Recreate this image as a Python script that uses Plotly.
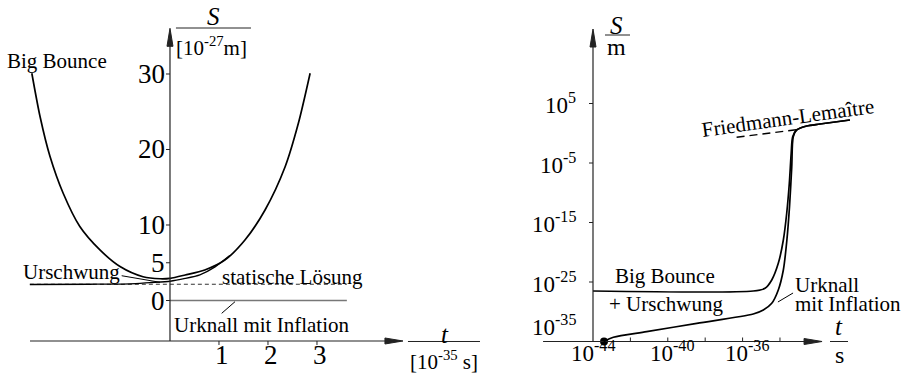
import plotly.graph_objects as go

# ---- left panel: t in 1e-35 s, S in 1e-27 m ----
bounce_t = [-2.82, -2.65, -2.45, -2.18, -1.84, -1.43, -1.02, -0.55, -0.20, 0.0, 0.31, 0.71, 1.12, 1.53, 1.94, 2.35, 2.62, 2.86]
bounce_s = [30.1, 24.3, 19.1, 14.2, 9.8, 6.7, 4.5, 3.15, 2.88, 2.94, 3.38, 4.04, 5.36, 8.01, 11.99, 17.72, 23.47, 30.1]

urschwung_t = [-2.86, -1.63, -0.82, -0.41, 0.0, 0.31, 0.61, 0.92, 1.22]
urschwung_s = [2.12, 2.15, 2.21, 2.38, 2.55, 2.92, 3.4, 4.45, 5.95]

static_t = [-2.86, 3.61]
static_s = [2.15, 2.15]

bigbang_t = [0.0, 3.61]
bigbang_s = [0.0, 0.0]

left_yticks = [0, 5, 10, 20, 30]
left_xticks = [1, 2, 3]

# ---- right panel: log10(t/s), log10(S/m) ----
bb_logt = [-44.0, -35.43, -34.80, -34.44, -34.09, -33.82, -33.64, -33.50, -33.40, -33.32, -33.11, -32.57, -31.86, -30.26]
bb_logs = [-26.51, -26.51, -26.06, -24.66, -21.86, -17.94, -13.45, -8.41, -3.37, -0.58, 0.55, 1.22, 1.55, 2.23]

infl_logt = [-43.41, -42.91, -41.13, -38.45, -35.43, -34.89, -34.44, -34.09, -33.82, -33.63, -33.49, -33.37, -33.29, -33.11, -32.57, -31.86, -30.26]
infl_logs = [-35.0, -34.29, -33.35, -31.94, -30.38, -29.71, -28.58, -26.34, -22.98, -17.94, -12.34, -5.62, -0.58, 0.55, 1.22, 1.55, 2.23]

fl_logt = [-36.32, -32.93]
fl_logs = [-0.68, 0.66]

right_yticks = [5, -5, -15, -25, -35]
right_xminor = [-42, -40, -38, -36, -34]
right_xlabels = [-44, -40, -36]

FONT = "Liberation Serif, DejaVu Serif, serif"
INK = "black"
AXIS = "#222"

fig = go.Figure()


def line(x, y, xa, ya, color=INK, width=1.5, dash=None, smooth=0):
    fig.add_trace(go.Scatter(x=x, y=y, xaxis=xa, yaxis=ya, mode="lines",
                             line=dict(color=color, width=width, dash=dash,
                                       shape="spline" if smooth else "linear",
                                       smoothing=smooth if smooth else 1),
                             hoverinfo="skip", showlegend=False))


def exp10(v):
    return [10.0 ** e for e in v]


# left curves
line(static_t, static_s, "x", "y", color="#333", width=1.2, dash="4px,3px")
line(urschwung_t, urschwung_s, "x", "y", width=1.3, smooth=0.6)
line(bounce_t, bounce_s, "x", "y", width=1.7, smooth=0.8)
line(bigbang_t, bigbang_s, "x", "y", color="#777", width=1.6)
# leader lines
line([-0.986, -0.204], [3.28, 2.41], "x", "y", width=1)
line([1.055, 1.327], [-1.70, -0.16], "x", "y", width=1)

# left axes
x_axis_s = -5.364
line([-2.857, 4.70], [x_axis_s, x_axis_s], "x", "y", color=AXIS, width=1.2)
line([0, 0], [x_axis_s, 35.5], "x", "y", color=AXIS, width=1.2)

# right curves
line(exp10(fl_logt), exp10(fl_logs), "x2", "y2", width=1.4, dash="8px,5px")
line(exp10(infl_logt), exp10(infl_logs), "x2", "y2", width=1.7, smooth=0.8)
line(exp10(bb_logt), exp10(bb_logs), "x2", "y2", width=1.7, smooth=0.8)
line(exp10([-34.11, -33.30]), exp10([-28.36, -26.85]), "x2", "y2", width=1)
fig.add_trace(go.Scatter(x=[10.0 ** infl_logt[0]], y=[10.0 ** infl_logs[0]], xaxis="x2", yaxis="y2",
                         mode="markers", marker=dict(color=INK, size=8), hoverinfo="skip", showlegend=False))

# right axes
line(exp10([-46.67, -32.05]), [1e-35, 1e-35], "x2", "y2", color=AXIS, width=1.2)
line([1e-44, 1e-44], exp10([-35, 17.0]), "x2", "y2", color=AXIS, width=1.2)

shapes = []


def pix_path(xref, yref, x, y, path, fill=None):
    s = dict(type="path", xref=xref, yref=yref, xsizemode="pixel", ysizemode="pixel",
             xanchor=x, yanchor=y, path=path, line=dict(color=AXIS, width=1))
    if fill:
        s["fillcolor"] = fill
    shapes.append(s)


ARROW_R = "M0,0 L-18,3 L-18,-3 Z"
ARROW_U = "M0,0 L-3,-18 L3,-18 Z"

# arrowheads
pix_path("x", "y", 4.755, x_axis_s, ARROW_R, AXIS)
pix_path("x", "y", 0, 36.05, ARROW_U, AXIS)
pix_path("x2", "y2", 10 ** -31.75, 1e-35, ARROW_R, AXIS)
pix_path("x2", "y2", 1e-44, 10 ** 17.52, ARROW_U, AXIS)

# tick marks
for v in left_yticks:
    pix_path("x", "y", 0, v, "M0,0 L-4,0")
for v in left_xticks:
    pix_path("x", "y", v, x_axis_s, "M0,0 L0,-4")
for e in right_yticks:
    pix_path("x2", "y2", 1e-44, 10.0 ** e, "M0,0 L-4,0")
for e in right_xminor:
    pix_path("x2", "y2", 10.0 ** e, 1e-35, "M0,0 L0,4")


# fraction bars
def bar(xref, yref, x0, x1, y):
    shapes.append(dict(type="line", xref=xref, yref=yref, x0=x0, x1=x1, y0=y, y1=y,
                       line=dict(color=AXIS, width=1)))


bar("x", "y", 0.122, 1.653, 36.09)
bar("x", "y", 4.857, 6.327, -5.43)
shapes.append(dict(type="line", xref="paper", yref="paper", x0=605 / 906, x1=630 / 906,
                   y0=1 - 35 / 373, y1=1 - 35 / 373, line=dict(color=AXIS, width=1)))
shapes.append(dict(type="line", xref="paper", yref="paper", x0=830 / 906, x1=848 / 906,
                   y0=1 - 341.5 / 373, y1=1 - 341.5 / 373, line=dict(color=AXIS, width=1)))

ann = []


def text(s, x, y, xref="x", yref="y", size=21, xanchor="center", yanchor="middle", angle=0, xshift=0, yshift=0):
    ann.append(dict(text=s, x=x, y=y, xref=xref, yref=yref, showarrow=False, xanchor=xanchor,
                    yanchor=yanchor, textangle=angle, xshift=xshift, yshift=yshift,
                    font=dict(family=FONT, size=size, color=INK)))


# left tick labels
for v in left_yticks:
    text(str(v), 0, v, size=27, xanchor="right", xshift=-3)
for v in left_xticks:
    text(str(v), v, -7.22, size=27, xshift=3)

# left labels
text("Big Bounce", -2.31, 31.72)
text("Urschwung", -2.006, 3.81)
text("statische Lösung", 2.5, 3.15)
text("Urknall mit Inflation", 1.871, -3.245)
text("<i>S</i>", 0.898, 37.55, size=25)
text("[10<sup>-27</sup>m]", 0.857, 33.7)
text("<i>t</i>", 5.612, -4.44, size=25)
text("[10<sup>-35</sup> s]", 5.59, -8.01)

# right tick labels (annotation positions on log axes are in log10 units)
for e in right_yticks:
    text("10<sup>%d</sup>" % e, -44, e, "x2", "y2", size=23, xanchor="right", xshift=-15,
         yshift=16 if e == -35 else 0)
for e in right_xlabels:
    text("10<sup>%d</sup>" % e, e, -36.76, "x2", "y2", size=23, xshift=0 if e == -44 else 4)

# right labels
text("Big Bounce", -42.93, -23.99, "x2", "y2", xanchor="left")
text("+ Urschwung", -43.25, -28.70, "x2", "y2", xanchor="left")
text("Urknall", -33.30, -25.5, "x2", "y2", xanchor="left")
text("mit Inflation", -33.30, -28.70, "x2", "y2", xanchor="left")
text("Friedmann-Lemaître", -33.57, 2.56, "x2", "y2", angle=-8)
text("<i>S</i>", -42.72, 18.03, "x2", "y2", size=25)
text("m", -42.72, 14.50, "x2", "y2", size=24)
text("<i>t</i>", -30.84, -32.56, "x2", "y2", size=25)
text("s", -30.84, -37.27, "x2", "y2", size=24)

hidden = dict(visible=False, showgrid=False, zeroline=False, fixedrange=True)
fig.update_layout(
    width=906, height=373,
    margin=dict(l=0, r=0, t=0, b=0),
    paper_bgcolor="white", plot_bgcolor="white",
    showlegend=False,
    font=dict(family=FONT),
    xaxis=dict(domain=[0, 0.56], range=[-3.4694, 6.8857], **hidden),
    yaxis=dict(domain=[0, 1], range=[-9.603, 39.80], anchor="x", **hidden),
    xaxis2=dict(domain=[0.56, 1], type="log", range=[-48.58, -27.26], anchor="y2", **hidden),
    yaxis2=dict(domain=[0, 1], type="log", range=[-40.294, 22.395], anchor="x2", **hidden),
    shapes=shapes,
    annotations=ann,
)

fig.write_html("out.html", config={"displayModeBar": False},
               post_script="document.body.style.margin='0';")
